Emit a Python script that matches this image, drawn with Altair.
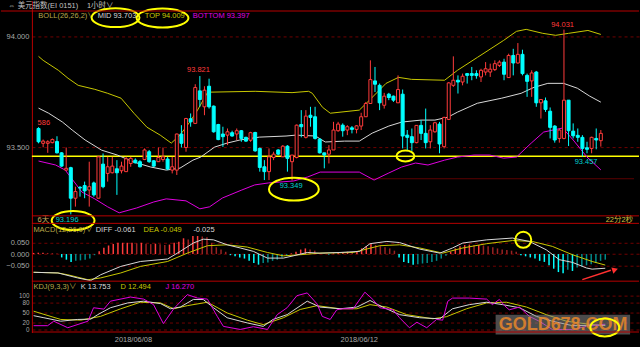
import altair as alt
import pandas as pd
import numpy as np

# ---------------- data ----------------
opens = [93.584,93.517,93.517,93.520,93.525,93.474,93.396,93.407,93.269,93.318,93.326,93.306,93.338,93.269,93.423,93.381,93.384,93.402,93.393,93.389,
         93.426,93.441,93.434,93.444,93.479,93.438,93.434,93.444,93.446,93.396,93.396,93.559,93.498,93.628,93.607,93.754,93.682,93.775,93.685,93.602,
         93.559,93.554,93.565,93.559,93.574,93.544,93.531,93.566,93.494,93.411,93.389,93.453,93.487,93.456,93.504,93.434,93.453,93.602,93.544,93.644,
         93.637,93.536,93.474,93.468,93.487,93.574,93.599,93.577,93.587,93.580,93.595,93.637,93.697,93.799,93.779,93.689,93.739,93.730,93.700,93.739,
         93.554,93.547,93.520,93.598,93.562,93.524,93.569,93.604,93.502,93.625,93.779,93.802,93.794,93.832,93.832,93.832,93.817,93.839,93.839,93.850,
         93.869,93.884,93.814,93.914,93.880,93.919,93.824,93.799,93.839,93.700,93.709,93.662,93.595,93.539,93.539,93.712,93.572,93.553,93.544,93.497,
         93.494,93.539,93.529]
highs = [93.590,93.534,93.531,93.539,93.549,93.477,93.498,93.411,93.321,93.324,93.344,93.434,93.344,93.459,93.471,93.456,93.456,93.441,93.434,93.456,
         93.456,93.449,93.441,93.494,93.487,93.441,93.498,93.498,93.456,93.456,93.561,93.599,93.632,93.652,93.784,93.821,93.775,93.809,93.688,93.605,
         93.592,93.584,93.574,93.584,93.577,93.547,93.569,93.569,93.498,93.441,93.494,93.479,93.490,93.509,93.509,93.464,93.602,93.667,93.667,93.682,
         93.682,93.539,93.474,93.509,93.614,93.614,93.607,93.599,93.595,93.599,93.655,93.704,93.892,93.862,93.787,93.745,93.745,93.733,93.824,93.760,
         93.577,93.584,93.599,93.622,93.674,93.599,93.614,93.614,93.637,93.794,93.910,93.824,93.832,93.835,93.862,93.847,93.854,93.884,93.877,93.892,
         93.892,93.899,93.922,93.944,93.970,93.940,93.832,93.847,93.844,93.715,93.724,93.679,93.599,93.584,94.031,93.712,93.607,93.584,93.554,93.524,
         93.547,93.584,93.577]
lows = [93.517,93.499,93.474,93.517,93.471,93.411,93.393,93.196,93.231,93.276,93.269,93.231,93.276,93.269,93.314,93.344,93.381,93.284,93.381,93.389,
        93.411,93.426,93.408,93.441,93.429,93.411,93.434,93.434,93.396,93.381,93.374,93.498,93.479,93.592,93.604,93.682,93.644,93.674,93.565,93.531,
        93.501,93.509,93.547,93.531,93.524,93.524,93.524,93.479,93.389,93.351,93.351,93.441,93.464,93.456,93.389,93.349,93.449,93.544,93.539,93.592,
        93.534,93.471,93.404,93.426,93.487,93.569,93.547,93.554,93.562,93.562,93.577,93.637,93.697,93.749,93.667,93.674,93.712,93.704,93.700,93.494,
        93.486,93.483,93.517,93.532,93.494,93.494,93.565,93.472,93.494,93.622,93.772,93.742,93.779,93.787,93.802,93.809,93.794,93.824,93.817,93.844,
        93.862,93.802,93.814,93.824,93.877,93.824,93.727,93.727,93.682,93.629,93.659,93.539,93.520,93.520,93.535,93.505,93.539,93.524,93.457,93.472,
        93.472,93.490,93.502]
closes = [93.524,93.527,93.524,93.534,93.474,93.414,93.404,93.269,93.299,93.315,93.302,93.321,93.284,93.456,93.321,93.411,93.414,93.384,93.414,93.447,
          93.449,93.429,93.411,93.487,93.434,93.414,93.453,93.456,93.401,93.411,93.559,93.517,93.629,93.614,93.769,93.715,93.757,93.682,93.569,93.534,
          93.547,93.569,93.550,93.574,93.539,93.527,93.565,93.483,93.408,93.389,93.456,93.468,93.468,93.504,93.449,93.464,93.599,93.592,93.640,93.634,
          93.539,93.474,93.464,93.487,93.577,93.604,93.574,93.592,93.580,93.596,93.637,93.697,93.805,93.784,93.700,93.730,93.724,93.712,93.760,93.550,
          93.544,93.520,93.598,93.562,93.520,93.577,93.610,93.514,93.634,93.790,93.802,93.794,93.820,93.824,93.824,93.823,93.847,93.854,93.852,93.877,
          93.884,93.829,93.914,93.880,93.919,93.832,93.797,93.835,93.700,93.715,93.670,93.589,93.532,93.577,93.712,93.574,93.551,93.544,93.494,93.490,
          93.544,93.532,93.562]

top_i = [0,1,4.3,6.4,8.6,12.2,15,17.9,20.7,23.5,26.4,28.8,30.7,32.8,34.5,36.7,47,55,58.6,59.4,61.6,63.3,69.6,71.8,75.4,78.1,80.9,88.1,90.9,95.2,100.9,103.7,105.8,109.4,112.2,115.0,119.2,122]
top_v = [93.910,93.892,93.847,93.811,93.779,93.761,93.743,93.721,93.653,93.590,93.554,93.518,93.554,93.613,93.667,93.748,93.752,93.746,93.752,93.743,93.680,93.653,93.667,93.712,93.788,93.815,93.806,93.802,93.847,93.905,93.982,94.023,94.032,94.014,94.005,94.014,94.027,94.009]
mid_i = [0,2.2,5.2,7.3,10.1,13.7,17.1,20.7,24.3,27.7,30.7,33.5,35.2,38.2,40.9,43.7,47.9,53.7,55.8,60.1,62.2,66.4,69.6,72.4,76.0,78.8,83.0,86.0,88.8,90.9,95.2,100.5,104.7,107.5,110.5,113.9,116.9,119.6,122]
mid_v = [93.676,93.653,93.613,93.577,93.532,93.486,93.464,93.432,93.410,93.396,93.405,93.441,93.455,93.500,93.518,93.532,93.545,93.550,93.554,93.550,93.523,93.527,93.527,93.563,93.595,93.613,93.622,93.622,93.635,93.658,93.698,93.721,93.743,93.770,93.788,93.788,93.766,93.730,93.703]
bot_i = [0,3.7,5.8,9.4,12.2,15.0,17.5,21.3,25.0,27.7,32.0,35.0,37.1,39.9,44.1,46.9,49.9,55.4,58.4,61.1,69.6,72.8,76.0,78.8,81.8,84.5,88.1,90.9,94.5,97.9,100.9,103.7,106.9,109.6,113.7,116.0,119.0,122]
bot_v = [93.437,93.419,93.396,93.297,93.266,93.230,93.203,93.225,93.252,93.266,93.257,93.221,93.230,93.270,93.306,93.329,93.338,93.347,93.365,93.387,93.387,93.351,93.383,93.410,93.428,93.419,93.441,93.455,93.464,93.464,93.450,93.455,93.518,93.568,93.586,93.532,93.455,93.397]

drawn_line = 93.459
support_line = 93.357

macd_hist = [0.005,0.006,0.006,0.005,0.004,0.002,
             -0.015,-0.025,-0.035,-0.030,-0.028,-0.025,-0.020,-0.005,
             0.012,0.028,0.038,0.045,0.050,0.050,0.050,0.050,0.048,0.050,0.046,0.044,0.046,0.044,0.040,0.042,0.050,0.055,0.070,0.065,0.080,0.080,0.078,0.075,0.050,0.030,0.020,0.010,
             -0.005,-0.010,-0.015,-0.020,-0.030,-0.040,-0.047,-0.040,-0.038,-0.030,-0.025,-0.015,-0.008,
             0.003,0.010,0.020,0.025,0.020,0.015,
             0.004,0.002,-0.002,0.003,0.005,0.008,0.010,0.008,
             0.010,0.025,0.035,0.045,0.040,0.035,0.030,0.025,0.015,
             -0.015,-0.035,-0.040,-0.047,-0.045,-0.042,-0.040,-0.035,-0.030,-0.020,-0.008,
             0.010,0.025,0.035,0.040,0.042,0.040,0.040,0.038,0.035,0.030,0.025,0.020,0.018,0.015,0.010,
             -0.005,-0.010,
             -0.015,-0.020,-0.030,-0.035,-0.050,-0.065,-0.080,-0.085,-0.070,-0.075,-0.060,-0.055,-0.050,-0.045,-0.040,-0.030,-0.025]
diff_i = [0,5.2,9.4,12.2,14.3,18.6,22.8,28.6,31.3,34.1,36.2,38.4,41.3,44.1,46.9,49.9,53.3,55.4,58.4,61.1,65.4,69.6,71.8,75.4,78.1,82.4,86.7,89.4,91.6,96.7,102.2,105.8,109.4,112.2,115.0,118.0,119.2,122]
diff_v = [-0.081,-0.084,-0.106,-0.118,-0.092,-0.055,-0.033,-0.022,0.012,0.049,0.066,0.063,0.041,0.027,0.012,-0.018,-0.018,-0.008,0.007,0.004,0.007,0.012,0.046,0.056,0.051,0.022,0.004,0.027,0.049,0.063,0.071,0.056,0.019,-0.025,-0.037,-0.062,-0.067,-0.063]
dea_i = [0,5.2,7.3,11.6,14.3,18.6,22.8,28.6,32.8,37.1,41.3,45.6,49.9,53.3,56.9,61.1,68.2,73.9,78.1,82.4,87.3,91.6,96.7,102.2,106.4,110.7,115.0,119.2,122]
dea_v = [-0.081,-0.084,-0.092,-0.114,-0.106,-0.084,-0.055,-0.033,0.004,0.037,0.041,0.031,0.007,-0.008,-0.003,0.004,0.007,0.037,0.041,0.027,0.004,0.027,0.046,0.060,0.056,0.034,-0.003,-0.033,-0.049]

k_i = [0,2.2,5.8,9.4,12.2,13.7,16.4,20.1,23.5,27.1,29.2,31.3,34.1,36.2,38.4,41.3,45.6,49.0,51.1,54.1,58.4,61.1,65.4,69.0,71.8,74.5,78.1,82.4,86.7,89.4,93.0,96.7,100.1,103.7,107.3,110.7,115.0,122]
k_v = [41,35,25,30,31,44,64,78,83,76,61,66,88,88,64,35,20,10,30,44,83,66,61,66,85,66,44,35,32,61,73,80,73,64,39,25,12,13.8]
d_i = [0,5.8,10.1,14.3,18.6,22.8,27.1,29.9,32.8,37.1,41.3,45.6,49.0,53.3,56.9,60.5,65.4,69.0,71.8,75.4,79.6,85.2,88.1,92.4,96.7,100.9,105.2,109.4,113.7,119.2,122]
d_v = [54,30,28,39,61,80,78,61,70,80,49,28,15,35,59,70,61,61,73,66,44,32,38,61,78,80,66,44,25,15,12.5]
j_i = [0,3.0,4.3,7.3,11.6,12.8,15.0,16.4,20.7,23.5,25.6,27.7,29.9,32.8,35.0,37.1,39.2,40.5,44.1,46.9,49.9,52.0,54.1,56.2,58.4,60.5,61.6,63.3,64.7,66.0,68.2,70.7,72.4,73.9,76.7,78.1,80.2,81.8,83.9,86.0,87.3,88.4,89.4,93.0,96.7,97.9,99.4,100.5,101.5,103.7,105.8,107.9,110.7,115.0,118.0,122]
j_v = [12,12,25,6,25,64,60,83,95,89,73,18,61,102,92,89,39,10,1,9,1,44,64,99,107,75,39,30,58,61,61,109,88,64,58,35,6,22,6,30,28,83,92,92,89,73,88,70,58,66,39,25,1,1,10,16.3]

date_ticks = [21.2, 69.4]
date_labels = ["2018/06/08", "2018/06/12"]

# ---------------- style ----------------
FONT = "Liberation Sans, Arial, Noto Sans CJK SC, sans-serif"
RED = "#ff3b3b"
CYAN = "#00ffff"
TOPC = "#c8c800"
MIDC = "#d8d8d8"
BOTC = "#e000e0"
OLIVE = "#b8a848"
GRID = "#700000"
BORDER = "#b80000"
AXC = "#a8a8a8"
YEL = "#ffff00"
W = 609
XD = [-0.36, 129.2]
xs = alt.Scale(domain=XD, nice=False, zero=False)


def yaxis(values, fmt, fsize=7.5):
    return alt.Axis(values=values, format=fmt, ticks=False, domain=True, domainColor=BORDER,
                    domainWidth=1, labelColor=AXC, labelFontSize=fsize, labelFont=FONT,
                    labelPadding=3, labelOverlap=False, grid=True, gridColor=GRID,
                    gridDash=[3, 3], gridWidth=1, minExtent=31, maxExtent=31)


def line(ii, vv, color, Y, X, width=1.0):
    d = pd.DataFrame({"i": ii, "v": vv})
    return alt.Chart(d).mark_line(color=color, strokeWidth=width, clip=True).encode(x=X, y=Y("v:Q"))


def texts(rows, Y, X, align="left", size=7.5):
    d = pd.DataFrame(rows, columns=["t", "i", "v", "c"])
    return alt.Chart(d).mark_text(align=align, baseline="middle", fontSize=size, font=FONT).encode(
        x=X, y=Y("v:Q"), text="t:N", color=alt.Color("c:N", scale=None))


def ellipses(rows, Y, X):
    recs = []
    for i, v, w, h in rows:
        r = h / w
        recs.append({"i": i, "v": v, "shape": f"M -1 0 A 1 {r:.3f} 0 1 1 1 0 A 1 {r:.3f} 0 1 1 -1 0",
                     "size": w * w})
    d = pd.DataFrame(recs)
    return alt.Chart(d).mark_point(filled=False, stroke=YEL, strokeWidth=2, opacity=1).encode(
        x=X, y=Y("v:Q"), shape=alt.Shape("shape:N", scale=None), size=alt.Size("size:Q", scale=None))


def hrule(ypx, x0=0, x1=W, color=BORDER, width=1.0):
    return alt.Chart(pd.DataFrame({"a": [0]})).mark_rule(color=color, strokeWidth=width).encode(
        x=alt.value(x0), x2=alt.value(x1), y=alt.value(ypx))


# ---------------- main panel ----------------
XM = alt.X("i:Q", scale=xs, axis=None, title=None)
ym_scale = alt.Scale(domain=[93.15315, 94.16216], nice=False, zero=False)
ym_axis = yaxis([93.5, 94.0], ".3f")


def YM(f):
    return alt.Y(f, scale=ym_scale, axis=ym_axis, title=None)


cdf = pd.DataFrame({"i": list(range(len(opens))), "o": opens, "h": highs, "l": lows, "c": closes})
up = cdf["c"] >= cdf["o"]
cdf["lo"] = np.minimum(cdf["o"], cdf["c"])
cdf["hi"] = np.maximum(cdf["o"], cdf["c"])
cdf["col"] = np.where(up, RED, CYAN)
cdf["fill"] = np.where(up, "#000000", CYAN)

wicks = alt.Chart(cdf).mark_rule(strokeWidth=1).encode(
    x=XM, y=YM("l:Q"), y2="h:Q", color=alt.Color("col:N", scale=None))
bodies = alt.Chart(cdf).mark_bar(size=3, strokeWidth=1, orient="vertical").encode(
    x=XM, y=YM("lo:Q"), y2="hi:Q", fill=alt.Fill("fill:N", scale=None),
    stroke=alt.Stroke("col:N", scale=None))

yline = alt.Chart(pd.DataFrame({"v": [drawn_line]})).mark_rule(color=YEL, strokeWidth=1.5).encode(y=YM("v:Q"))
sline = alt.Chart(pd.DataFrame({"i": [55], "i2": [XD[1]], "v": [support_line]})).mark_rule(
    color="#5a0000", strokeWidth=1).encode(x=XM, x2="i2:Q", y=YM("v:Q"))

main_left = [
    ("⇔ 美元指数(EI 0151)", -6.6, 94.1396, "#c0c0c0"),
    ("1小时∨", 10.5, 94.1396, "#c0c0c0"),
    ("BOLL(26,26,2)∨", -0.04, 94.0923, OLIVE),
    ("MID 93.703", 12.83, 94.0923, MIDC),
    ("TOP 94.009", 23.04, 94.0923, TOPC),
    ("BOTTOM 93.397", 33.47, 94.0923, BOTC),
    ("586", -0.2, 93.608, RED),
    ("6天", -0.2, 93.172, "#c8b060"),
]
main_center = [
    ("93.821", 34.7, 93.847, RED),
    ("94.031", 113.7, 94.050, RED),
    ("93.349", 54.8, 93.324, "#00d0d0"),
    ("93.457", 118.8, 93.434, "#00d0d0"),
    ("93.196", 6.2, 93.172, "#00d0d0"),
]
main_right = [("22分2秒", 129.0, 93.172, "#d0c040")]
main_ell = [
    (16.7, 94.085, 48, 19),
    (26.9, 94.083, 52, 19),
    (7.5, 93.168, 43, 19),
    (55.4, 93.310, 50, 23),
    (79.6, 93.460, 18, 11),
]

main = alt.layer(
    sline, yline,
    line(top_i, top_v, TOPC, YM, XM), line(mid_i, mid_v, MIDC, YM, XM), line(bot_i, bot_v, BOTC, YM, XM),
    wicks, bodies,
    texts(main_left, YM, XM, "left"), texts(main_center, YM, XM, "center"), texts(main_right, YM, XM, "right"),
    ellipses(main_ell, YM, XM),
    hrule(10.5, -31, W), hrule(216), hrule(223.5),
).properties(width=W, height=224)

# ---------------- MACD panel ----------------
yq_scale = alt.Scale(domain=[-0.1226, 0.1341], nice=False, zero=False)
yq_axis = yaxis([-0.05, 0.0, 0.05], ".3f")


def YQ(f):
    return alt.Y(f, scale=yq_scale, axis=yq_axis, title=None)


hcol = []
for n, h in enumerate(macd_hist):
    prev = macd_hist[n - 1] if n > 0 else 0
    shrink = (h * prev > 0) and abs(h) < abs(prev)
    if h >= 0:
        hcol.append("#9a2222" if shrink else RED)
    else:
        hcol.append("#008a8a" if shrink else CYAN)
hdf = pd.DataFrame({"i": list(range(len(macd_hist))), "v": [0.0] * len(macd_hist), "h": macd_hist, "col": hcol})
hist = alt.Chart(hdf).mark_rule(strokeWidth=1.5).encode(
    x=XM, y=YQ("v:Q"), y2="h:Q", color=alt.Color("col:N", scale=None))

macd_left = [
    ("MACD(12,26,9)∨", -0.04, 0.1075, OLIVE),
    ("DIFF -0.061", 13.26, 0.1075, MIDC),
    ("DEA -0.049", 23.47, 0.1075, TOPC),
    ("-0.025", 34.1, 0.1075, MIDC),
]
arrow = pd.DataFrame({"i": [117.1, 123.2], "v": [-0.1137, -0.0720]})
arrow_line = alt.Chart(arrow).mark_line(color="#ff3030", strokeWidth=1.5).encode(x=XM, y=YQ("v:Q"))
arrow_head = alt.Chart(pd.DataFrame({"i": [124.1], "v": [-0.0695]})).mark_point(
    shape="triangle-right", filled=True, color="#ff3030", size=45, angle=342, opacity=1).encode(x=XM, y=YQ("v:Q"))

macd = alt.layer(
    hist,
    line(dea_i, dea_v, TOPC, YQ, XM), line(diff_i, diff_v, MIDC, YQ, XM),
    texts(macd_left, YQ, XM, "left"),
    ellipses([(104.5, 0.0633, 16, 16)], YQ, XM),
    arrow_line, arrow_head,
    hrule(57.5),
).properties(width=W, height=58)

# ---------------- KDJ panel ----------------
xk_axis = alt.Axis(values=date_ticks, ticks=False, domain=False, grid=False, labelColor=AXC,
                   labelFontSize=7.5, labelFont=FONT, labelPadding=3, minExtent=14, maxExtent=14,
                   labelExpr="datum.value < 40 ? '%s' : '%s'" % (date_labels[0], date_labels[1]))
XK = alt.X("i:Q", scale=xs, axis=xk_axis, title=None)
yk_scale = alt.Scale(domain=[-7.8, 139.6], nice=False, zero=False)
yk_axis = yaxis([0, 20, 50, 80, 100], "d", fsize=6.3)


def YK(f):
    return alt.Y(f, scale=yk_scale, axis=yk_axis, title=None)


kdj_left = [
    ("KDJ(9,3,3)∨", -0.04, 123, OLIVE),
    ("K 13.753", 10.06, 123, MIDC),
    ("D 12.494", 18.57, 123, TOPC),
    ("J 16.270", 28.15, 123, BOTC),
]
wm_box = alt.Chart(pd.DataFrame({"i": [98.6], "i2": [127.3], "v": [44.0], "v2": [-13.6]})).mark_rect(
    color="#8a8a8a", opacity=0.55).encode(x=XK, x2="i2:Q", y=YK("v:Q"), y2="v2:Q")
wm_text = alt.Chart(pd.DataFrame({"i": [113.0], "v": [15.0], "t": ["GOLD678.COM"]})).mark_text(
    font=FONT, fontSize=18, fontWeight="bold", color="#e8862a", opacity=0.85, align="center",
    baseline="middle").encode(x=XK, y=YK("v:Q"), text="t:N")

kdj = alt.layer(
    line(d_i, d_v, TOPC, YK, XK), line(k_i, k_v, MIDC, YK, XK), line(j_i, j_v, BOTC, YK, XK),
    texts(kdj_left, YK, XK, "left"),
    wm_box, wm_text,
    ellipses([(121.9, 6.6, 29, 18)], YK, XK),
    hrule(50.5),
).properties(width=W, height=51)

chart = alt.vconcat(main, macd, kdj, spacing=0, bounds="flush").properties(
    background="#000000", padding=0).configure_view(stroke=None)

chart.save("out.html", embed_options={"renderer": "svg", "actions": False})
